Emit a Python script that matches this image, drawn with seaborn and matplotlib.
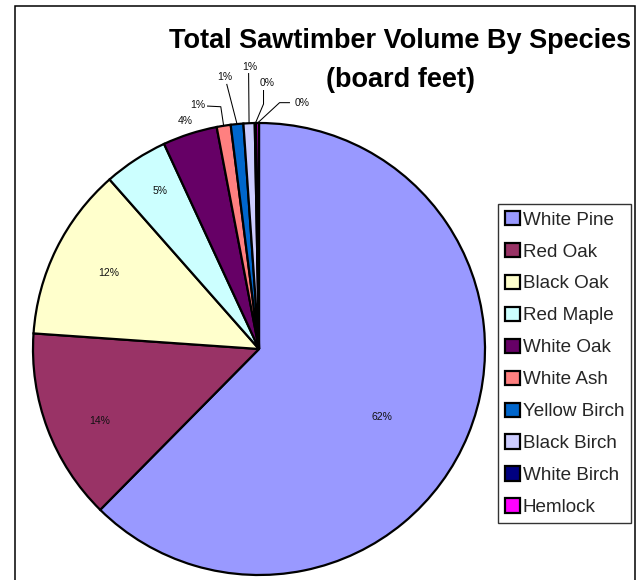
import numpy as np
import matplotlib
matplotlib.use("Agg")
import matplotlib.pyplot as plt
from matplotlib.patches import Patch, Rectangle
import seaborn as sns

# ---------------- data ----------------
species = ["White Pine", "Red Oak", "Black Oak", "Red Maple", "White Oak",
           "White Ash", "Yellow Birch", "Black Birch", "White Birch", "Hemlock"]
share = [62.4, 13.7, 12.4, 4.6, 3.9, 1.0, 0.9, 0.8, 0.1, 0.2]
slice_colors = ["#9999FF", "#993366", "#FFFFCC", "#CCFFFF", "#660066",
                "#FF8080", "#0066CC", "#CCCCFF", "#000080", "#FF00FF"]
title_lines = ["Total Sawtimber Volume By Species", "(board feet)"]

# ---------------- style ----------------
sns.set_theme(style="white")
plt.rcParams["font.family"] = ["Liberation Sans", "DejaVu Sans"]

W, H = 643, 580
CX, CY, R = 259, 349, 226  # pie centre / radius in pixels (from top-left)

fig = plt.figure(figsize=(W / 100, H / 100), dpi=100)
fig.patch.set_facecolor("white")
ax = fig.add_axes([0, 0, 1, 1])

palette = sns.color_palette(slice_colors)
wedges, _ = ax.pie(share, colors=palette, startangle=90, counterclock=False,
                   radius=1, center=(0, 0), frame=False,
                   wedgeprops=dict(edgecolor="black", linewidth=1.6))
ax.set_xlim(-CX / R, (W - CX) / R)
ax.set_ylim(-(H - CY) / R, CY / R)
ax.set_aspect("auto")
ax.axis("off")

total = sum(share)
pct = [f"{round(v / total * 100):.0f}%" for v in share]


def mid_dir(w, nudge=0.0):
    a = np.deg2rad((w.theta1 + w.theta2) / 2.0 - nudge)
    return np.cos(a), np.sin(a)


# inside labels: (radius fraction, clockwise angular nudge in degrees)
inside = {0: (0.62, 6.5), 1: (0.775, -3.5), 2: (0.745, 0.7), 3: (0.826, 1.0), 4: (1.06, 0.0)}
for i, (rf, nd) in inside.items():
    dx, dy = mid_dir(wedges[i], nd)
    ax.text(rf * dx, rf * dy, pct[i], ha="center", va="center",
            fontsize=7.5, color="#111111")

# outside labels with leader lines: label centre, attach point, elbow (pie units)
outside = {
    5: dict(lab=(-0.270, 1.080), att=(-0.230, 1.075), elb=(-0.169, 1.072)),
    6: dict(lab=(-0.150, 1.202), att=(-0.143, 1.173), elb=None),
    7: dict(lab=(-0.043, 1.249), att=(-0.046, 1.221), elb=None),
    8: dict(lab=(0.037, 1.178), att=(0.020, 1.146), elb=(0.020, 1.084)),
    9: dict(lab=(0.189, 1.090), att=(0.137, 1.090), elb=(0.091, 1.090)),
}
for i, o in outside.items():
    dx, dy = mid_dir(wedges[i])
    pts = [o["att"]] + ([o["elb"]] if o["elb"] else []) + [(dx, dy)]
    xs, ys = zip(*pts)
    ax.plot(xs, ys, color="black", lw=0.75, solid_capstyle="butt")
    ax.text(o["lab"][0], o["lab"][1], pct[i], ha="center", va="center",
            fontsize=7.5, color="#111111")

# title (two lines, drawn separately so each keeps a tight box)
for line, ypix in zip(title_lines, [41, 80]):
    fig.text(400.5 / W, 1 - ypix / H, line, ha="center", va="center",
             fontsize=19.5, fontweight="bold", color="black")

# legend
handles = [Patch(facecolor=c, edgecolor="black", linewidth=1.6) for c in palette]
leg = fig.legend(handles, species, loc="upper left",
                 bbox_to_anchor=(498 / W, 1 - 204 / H), bbox_transform=fig.transFigure,
                 frameon=True, fancybox=False, shadow=False, fontsize=13.6,
                 handlelength=0.8, handleheight=0.8, handletextpad=0.15,
                 labelspacing=0.75, borderpad=0.36, borderaxespad=0)
leg.get_frame().set_edgecolor("black")
leg.get_frame().set_linewidth(1.0)
leg.get_frame().set_facecolor("white")

# chart-area border
fig.patches.append(Rectangle((15 / W, -0.05), (635 - 15) / W, 1 - 6 / H + 0.05,
                             transform=fig.transFigure, fill=False,
                             edgecolor="black", linewidth=1.1))

fig.savefig("out.png", dpi=100, facecolor="white")
